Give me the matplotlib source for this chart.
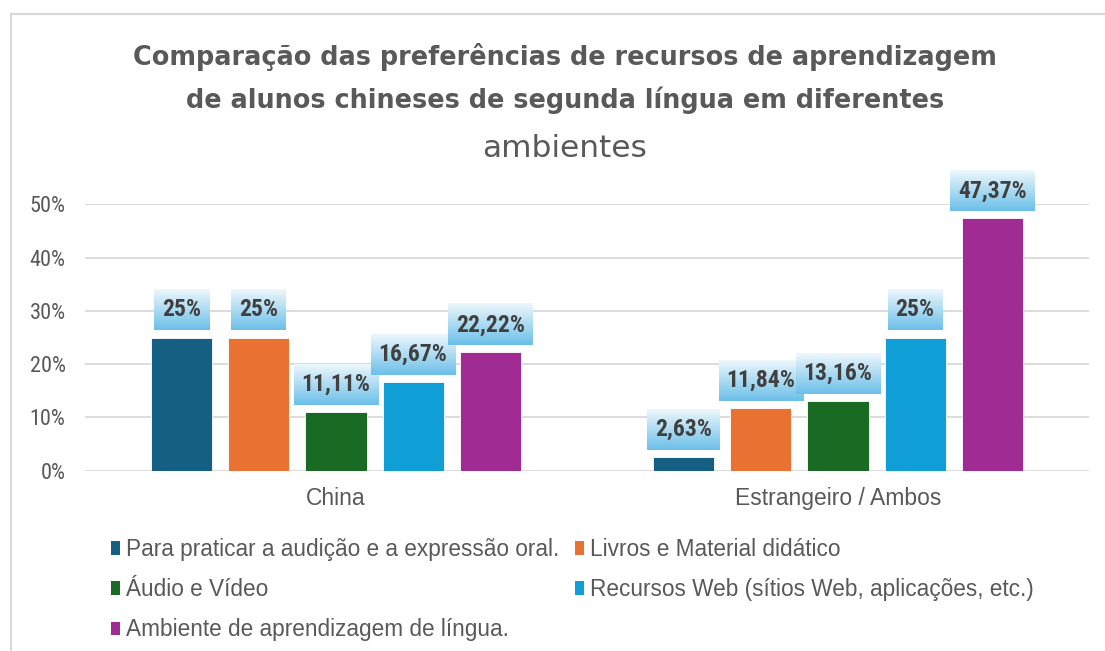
import matplotlib
matplotlib.use('Agg')
import matplotlib.pyplot as plt
import numpy as np
from matplotlib import font_manager
from matplotlib.lines import Line2D
from matplotlib.patches import Patch

categories = ['China', 'Estrangeiro / Ambos']
series = ['Para praticar a audição e a expressão oral.',
          'Livros e Material didático',
          'Áudio e Vídeo',
          'Recursos Web (sítios Web, aplicações, etc.)',
          'Ambiente de aprendizagem de língua.']
colors = ['#156082', '#E97132', '#196B24', '#0F9ED5', '#A02B93']

para = [25.0, 2.63]
livros = [25.0, 11.84]
audio = [11.11, 13.16]
web = [16.67, 25.0]
ambiente = [22.22, 47.37]
values = [para, livros, audio, web, ambiente]

yticks = [0, 10, 20, 30, 40, 50]

GRAY = '#595959'
LABEL = '#404040'
GRID = '#d9d9d9'


def pick_font(names):
    available = {f.name for f in font_manager.fontManager.ttflist}
    for name in names:
        if name in available:
            return name
    return 'DejaVu Sans'


narrow = pick_font(['Liberation Sans Narrow', 'Roboto Condensed', 'Liberation Sans'])
regular = pick_font(['Liberation Sans', 'DejaVu Sans'])
wide = 'DejaVu Sans'

W, H = 1105, 651
fig = plt.figure(figsize=(W / 100, H / 100), dpi=100)
ax = fig.add_axes([85 / W, 1 - 470.7 / H, (1089 - 85) / W, (470.7 - 204.3) / H])

bar_w = 0.1217
step = 0.1535
x = np.arange(len(categories))
for j, (vals, col, name) in enumerate(zip(values, colors, series)):
    ax.bar(x + (j - 2) * step, vals, width=bar_w, color=col, label=name,
           edgecolor='white', linewidth=0.6, zorder=2)

ax.set_xlim(-0.5, 1.5)
ax.set_ylim(0, 50)
ax.set_yticks(yticks)
ax.set_yticklabels([f'{t}%' for t in yticks], fontfamily=narrow, fontsize=16, color=GRAY)
ax.set_xticks(x)
ax.set_xticklabels(categories, fontfamily=regular, fontsize=16.5, color=GRAY)
ax.tick_params(axis='y', length=0, pad=14)
ax.tick_params(axis='x', length=0, pad=12)
ax.grid(axis='y', color=GRID, linewidth=1.3, zorder=0)
ax.set_axisbelow(True)
for s in ax.spines.values():
    s.set_visible(False)

# data labels with gradient boxes
fig.canvas.draw()
renderer = fig.canvas.get_renderer()
inv = ax.transData.inverted()
top_c = np.array([0.93, 0.97, 0.99])
bot_c = np.array([0.42, 0.75, 0.91])
grad = np.linspace(0, 1, 64)[:, None, None]
grad_img = top_c * (1 - grad) + bot_c * grad

for j, vals in enumerate(values):
    for i, v in enumerate(vals):
        xc = x[i] + (j - 2) * step
        px, py = ax.transData.transform((xc, v))
        y0 = py + 7
        y1 = y0 + 41
        _, yc = inv.transform((px, (y0 + y1) / 2))
        txt = f'{v:g}'.replace('.', ',') + '%'
        t = ax.text(xc, yc, txt, ha='center', va='center', fontsize=17,
                    fontweight='bold', fontfamily=narrow, color=LABEL,
                    zorder=6, clip_on=False)
        ext = t.get_window_extent(renderer)
        bx0, by0 = inv.transform((ext.x0 - 8, y0))
        bx1, by1 = inv.transform((ext.x1 + 8, y1))
        ax.imshow(grad_img, extent=(bx0, bx1, by0, by1), origin='upper',
                  aspect='auto', zorder=5, clip_on=False, interpolation='bilinear')

ax.set_xlim(-0.5, 1.5)
ax.set_ylim(0, 50)

# legend, row-wise order
order = [0, 2, 4, 1, 3]
handles = [Patch(facecolor=colors[k]) for k in order]
labels = [series[k] for k in order]
fig.legend(handles, labels, ncol=2, loc='upper left',
           bbox_to_anchor=(111 / W, 1 - 538 / H), frameon=False,
           borderpad=0, borderaxespad=0, handlelength=0.41, handleheight=0.54,
           handletextpad=0.25, columnspacing=0.7, labelspacing=0.76,
           prop={'family': regular, 'size': 16.3}, labelcolor=GRAY)

# title
fig.text(565 / W, 1 - 57 / H, 'Comparação das preferências de recursos de aprendizagem',
         ha='center', va='center', fontsize=18.4, fontweight='bold',
         fontfamily=wide, color=GRAY)
fig.text(565 / W, 1 - 100 / H, 'de alunos chineses de segunda língua em diferentes',
         ha='center', va='center', fontsize=18.4, fontweight='bold',
         fontfamily=wide, color=GRAY)
fig.text(565 / W, 1 - 148 / H, 'ambientes', ha='center', va='center',
         fontsize=22.5, fontfamily=wide, color=GRAY)

# chart border (top and left)
fig.add_artist(Line2D([11 / W, 1], [1 - 14 / H, 1 - 14 / H], transform=fig.transFigure,
                      color=GRID, linewidth=1.5))
fig.add_artist(Line2D([11 / W, 11 / W], [0, 1 - 14 / H], transform=fig.transFigure,
                      color=GRID, linewidth=1.5))

fig.savefig('out.png', dpi=100)
